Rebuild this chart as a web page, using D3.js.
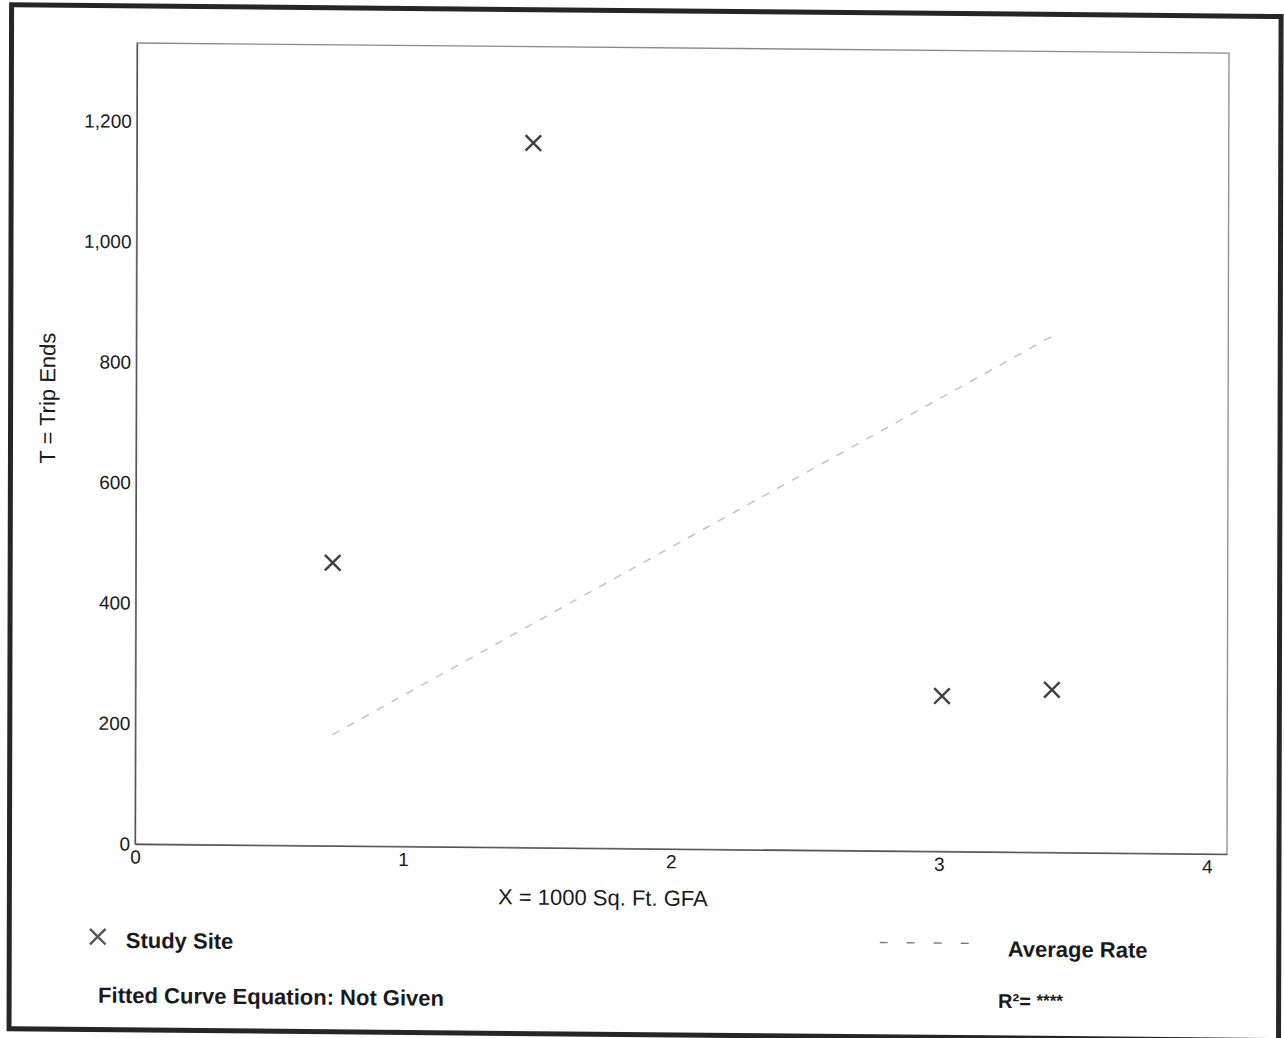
<!DOCTYPE html>
<html>
<head>
<meta charset="utf-8">
<script src="https://cdn.jsdelivr.net/npm/d3@7"></script>
<style>
  body { margin: 0; background: #fff; }
  text { font-family: "Liberation Sans", Arial, sans-serif; fill: #1a1a1a; }
</style>
</head>
<body>
<div id="chart"></div>
<script>
// study sites (X = 1000 Sq. Ft. GFA, T = trip ends)
const siteX = [0.735, 1.48, 3.01, 3.42];
const siteT = [470, 1170, 258, 270];
const xTicks = [0, 1, 2, 3, 4];
const yTicks = [0, 200, 400, 600, 800, 1000, 1200];

const W = 1284, H = 1038;
const plot = { left: 136, right: 1228, top: 48, bottom: 849 };

const svg = d3.select("#chart").append("svg")
    .attr("width", W)
    .attr("height", H);

svg.append("rect").attr("width", W).attr("height", H).attr("fill", "#fff");

// the scanned page is a little skewed
const g = svg.append("g")
    .attr("transform", "matrix(1,0.0092,-0.0025,1,1.12,-6.26)");

// outer frame
g.append("rect")
    .attr("x", 10.5).attr("y", 11)
    .attr("width", 1269.5).attr("height", 1024)
    .attr("fill", "none")
    .attr("stroke", "#262626")
    .attr("stroke-width", 5);

const x = d3.scaleLinear().domain([0, 4.075]).range([plot.left, plot.right]);
const y = d3.scaleLinear().domain([0, 1330]).range([plot.bottom, plot.top]);

// plot box
g.append("rect")
    .attr("x", plot.left).attr("y", plot.top)
    .attr("width", plot.right - plot.left)
    .attr("height", plot.bottom - plot.top)
    .attr("fill", "none")
    .attr("stroke", "#8a8a8a")
    .attr("stroke-width", 1.3);

// axes (labels only, no tick marks)
const xAxis = g.append("g")
    .attr("transform", `translate(0,${plot.bottom})`)
    .call(d3.axisBottom(x).tickValues(xTicks).tickSize(0).tickPadding(6).tickFormat(d3.format("d")));
xAxis.select(".domain").attr("stroke", "#555").attr("stroke-width", 1.3);
xAxis.selectAll("text")
    .style("font-size", "19px")
    .style("font-family", "Liberation Sans, Arial, sans-serif")
    .attr("fill", "#1a1a1a");

const yAxis = g.append("g")
    .attr("transform", `translate(${plot.left},0)`)
    .call(d3.axisLeft(y).tickValues(yTicks).tickSize(0).tickPadding(5).tickFormat(d3.format(",")));
yAxis.select(".domain").attr("stroke", "#555").attr("stroke-width", 1.3);
yAxis.selectAll("text")
    .style("font-size", "19px")
    .style("font-family", "Liberation Sans, Arial, sans-serif")
    .attr("fill", "#1a1a1a");

// axis titles
g.append("text")
    .attr("x", 604).attr("y", 906)
    .attr("text-anchor", "middle")
    .style("font-size", "22px")
    .text("X = 1000 Sq. Ft. GFA");

g.append("text")
    .attr("transform", "translate(55,404) rotate(-90)")
    .attr("text-anchor", "middle")
    .style("font-size", "22px")
    .text("T = Trip Ends");

// average rate line
const avgRate = d3.sum(siteT) / d3.sum(siteX);
const xr = d3.extent(siteX);
const rateLine = d3.line().x(d => x(d)).y(d => y(d * avgRate));
g.append("path")
    .datum(xr)
    .attr("d", rateLine)
    .attr("fill", "none")
    .attr("stroke", "#c4c4c4")
    .attr("stroke-width", 1.5)
    .attr("stroke-dasharray", "8,9");

// study site markers
const cross = d3.symbol().type(d3.symbolX).size(160);
g.selectAll(".site")
    .data(siteX.map((v, i) => ({ x: v, t: siteT[i] })))
    .join("path")
    .attr("class", "site")
    .attr("transform", d => `translate(${x(d.x)},${y(d.t)})`)
    .attr("d", cross)
    .attr("fill", "none")
    .attr("stroke", "#404040")
    .attr("stroke-width", 2.4);

// legend
g.append("path")
    .attr("transform", "translate(99,942)")
    .attr("d", cross)
    .attr("fill", "none")
    .attr("stroke", "#555")
    .attr("stroke-width", 2.4);

g.append("text")
    .attr("x", 127).attr("y", 953)
    .style("font-size", "22px")
    .style("font-weight", "bold")
    .text("Study Site");

g.append("text")
    .attr("x", 99.5).attr("y", 1008)
    .style("font-size", "22px")
    .style("font-weight", "bold")
    .text("Fitted Curve Equation: Not Given");

g.append("line")
    .attr("x1", 881).attr("x2", 973)
    .attr("y1", 940.7).attr("y2", 940.7)
    .attr("stroke", "#7a7a7a")
    .attr("stroke-width", 1.4)
    .attr("stroke-dasharray", "8,19");

g.append("text")
    .attr("x", 1009).attr("y", 953.5)
    .style("font-size", "22px")
    .style("font-weight", "bold")
    .text("Average Rate");

const r2 = g.append("text")
    .attr("x", 999.5).attr("y", 1005)
    .style("font-size", "20px")
    .style("font-weight", "bold");
r2.append("tspan").text("R²= ");
r2.append("tspan").style("font-size", "17px").attr("dy", -2).text("****");
</script>
</body>
</html>
